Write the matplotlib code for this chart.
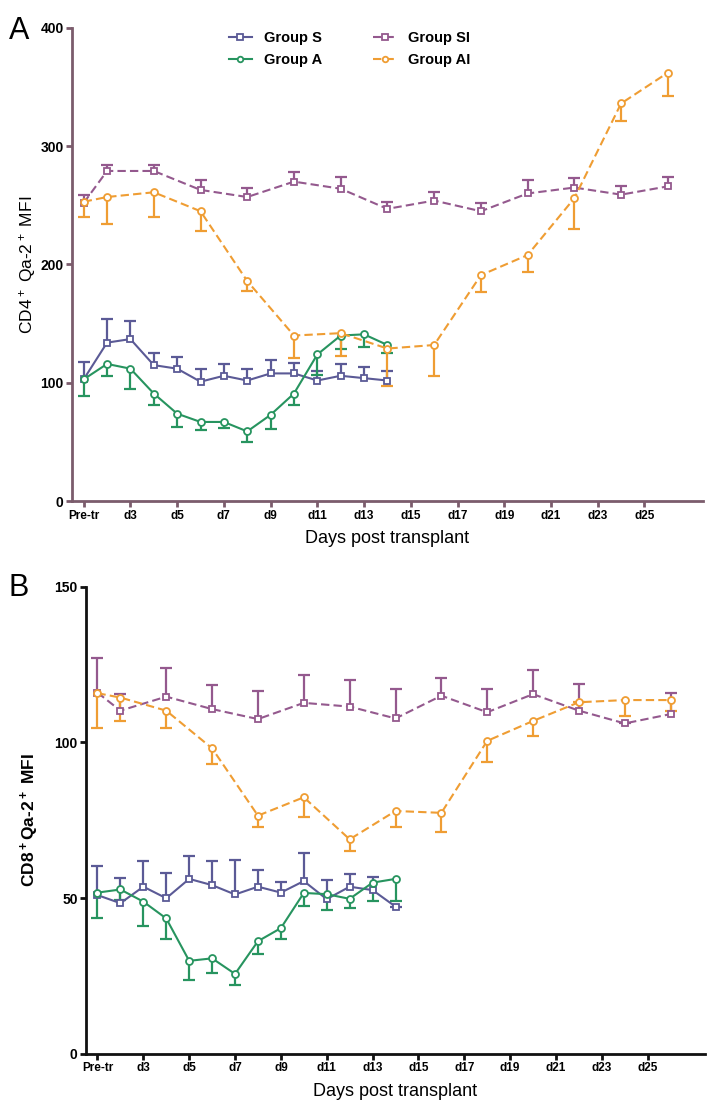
import matplotlib
matplotlib.use("Agg")
import matplotlib.pyplot as plt
import numpy as np

plt.rcParams['font.family'] = ['Liberation Sans', 'DejaVu Sans']
plt.rcParams['mathtext.fontset'] = 'custom'
plt.rcParams['mathtext.rm'] = 'Liberation Sans'
plt.rcParams['mathtext.bf'] = 'Liberation Sans:bold'
plt.rcParams['mathtext.default'] = 'regular'

# x positions (day index, Pre-tr = 1)
days_daily = [1, 2, 3, 4, 5, 6, 7, 8, 9, 10, 11, 12, 13, 14]
days_alt = [1, 2, 4, 6, 8, 10, 12, 14, 16, 18, 20, 22, 24, 26]
tick_pos = [1, 3, 5, 7, 9, 11, 13, 15, 17, 19, 21, 23, 25]
tick_labels = ['Pre-tr', 'd3', 'd5', 'd7', 'd9', 'd11', 'd13', 'd15',
               'd17', 'd19', 'd21', 'd23', 'd25']

# panel A: CD4+ Qa-2+ MFI (mean, one-sided SEM)
a_s = [103, 134, 137, 115, 112, 101, 106, 102, 108, 108, 102, 106, 104, 102]
a_s_err = [15, 20, 15, 10, 10, 11, 10, 10, 11, 9, 8, 10, 9, 8]
a_a = [103, 116, 112, 91, 74, 67, 67, 59, 73, 91, 124, 140, 141, 132]
a_a_err = [14, 10, 17, 10, 11, 7, 5, 9, 12, 10, 17, 11, 11, 7]
a_si = [252, 279, 279, 263, 257, 270, 264, 247, 254, 245, 260, 265, 259, 266]
a_si_err = [7, 5, 5, 8, 8, 8, 10, 6, 7, 7, 11, 8, 7, 8]
a_ai = [253, 257, 261, 245, 186, 140, 142, 129, 132, 191, 208, 256, 336, 362]
a_ai_err = [13, 23, 21, 17, 8, 19, 19, 32, 26, 14, 14, 26, 15, 20]

# panel B: CD8+ Qa-2+ MFI
b_s = [51, 48.4, 53.7, 50, 56.2, 54.2, 51.2, 53.7, 51.8, 55.5, 49.7, 53.7, 52.6, 47.3]
b_s_err = [9.3, 8, 8.3, 8, 7.3, 7.8, 11.1, 5.3, 3.3, 9.1, 6, 4.1, 4.3, 0]
b_a = [51.8, 52.8, 48.9, 43.5, 29.9, 30.7, 25.7, 36.2, 40.4, 51.7, 51.3, 49.8, 55, 56.2]
b_a_err = [8.1, 3.4, 7.7, 6.7, 6.3, 4.6, 3.6, 4.2, 3.6, 4.1, 5.1, 2.8, 5.8, 7]
b_si = [116, 110.2, 114.7, 110.7, 107.5, 112.7, 111.5, 107.7, 115, 109.7, 115.5, 110.2, 106.1, 109.1]
b_si_err = [11.2, 5.2, 9.3, 7.7, 9.1, 8.9, 8.5, 9.3, 5.8, 7.3, 7.7, 8.4, 0, 6.7]
b_ai = [115.8, 114.4, 110.2, 98.1, 76.5, 82.4, 68.9, 78, 77.4, 100.5, 106.9, 112.9, 113.6, 113.6]
b_ai_err = [11.3, 7.5, 5.5, 5.1, 3.7, 6.2, 3.7, 5.2, 6.1, 6.9, 4.7, 0, 5, 3.6]

c_s = '#5b5a96'
c_a = '#27945f'
c_si = '#94598e'
c_ai = '#ef9d33'


def draw(ax, x, y, err, up, color, marker, ls, label):
    y = np.array(y, dtype=float)
    err = np.array(err, dtype=float)
    zero = np.zeros_like(err)
    yerr = [zero, err] if up else [err, zero]
    eb = ax.errorbar(x, y, yerr=yerr, fmt='none', ecolor=color, elinewidth=1.6,
                     capsize=4, capthick=1.6, zorder=2)
    for cl in eb[1]:
        if np.allclose(cl.get_ydata(), y):
            cl.set_visible(False)
    ax.plot(x, y, ls=ls, color=color, lw=1.5, marker=marker, ms=5,
            mfc='white', mec=color, mew=1.3, label=label, zorder=3,
            dashes=(4, 2) if ls == '--' else (None, None))


def style(ax, spine_color, ymax, ystep):
    for s in ['top', 'right']:
        ax.spines[s].set_visible(False)
    for s in ['left', 'bottom']:
        ax.spines[s].set_linewidth(2)
        ax.spines[s].set_color(spine_color)
    ax.set_xlim(0.5, 27.5)
    ax.set_ylim(0, ymax)
    ax.set_yticks(np.arange(0, ymax + 1, ystep))
    ax.set_xticks(tick_pos)
    ax.set_xticklabels(tick_labels, fontweight='bold', fontsize=8.5)
    for t in ax.get_yticklabels():
        t.set_fontweight('bold')
        t.set_fontsize(10)
    ax.tick_params(direction='out', length=4, width=2, color=spine_color, pad=2)
    ax.set_xlabel('Days post transplant', fontsize=13, labelpad=6)


fig = plt.figure(figsize=(7.15, 11.09), dpi=100)
axA = fig.add_axes([0.1007, 0.548, 0.8823, 0.427])
axB = fig.add_axes([0.1203, 0.0496, 0.8657, 0.4214])

draw(axA, days_daily, a_s, a_s_err, True, c_s, 's', '-', 'Group S')
draw(axA, days_daily, a_a, a_a_err, False, c_a, 'o', '-', 'Group A')
draw(axA, days_alt, a_si, a_si_err, True, c_si, 's', '--', 'Group SI')
draw(axA, days_alt, a_ai, a_ai_err, False, c_ai, 'o', '--', 'Group AI')
style(axA, '#7b5c6c', 400, 100)
axA.set_ylabel('CD4$^+$ Qa-2$^+$ MFI', fontsize=12.5, labelpad=2)
axA.legend(loc='upper center', bbox_to_anchor=(0.44, 1.02), ncol=2, frameon=False,
           prop={'weight': 'bold', 'size': 10.5}, handlelength=1.6, columnspacing=3.5,
           labelspacing=0.5, markerscale=0.8)

draw(axB, days_daily, b_s, b_s_err, True, c_s, 's', '-', 'Group S')
draw(axB, days_daily, b_a, b_a_err, False, c_a, 'o', '-', 'Group A')
draw(axB, days_alt, b_si, b_si_err, True, c_si, 's', '--', 'Group SI')
draw(axB, days_alt, b_ai, b_ai_err, False, c_ai, 'o', '--', 'Group AI')
style(axB, '#111111', 150, 50)
axB.set_ylabel('CD8$^+$Qa-2$^+$ MFI', fontsize=12.5, fontweight='bold', labelpad=10)

fig.text(0.012, 0.965, 'A', fontsize=22)
fig.text(0.012, 0.463, 'B', fontsize=22)

fig.savefig('out.png', dpi=100)
